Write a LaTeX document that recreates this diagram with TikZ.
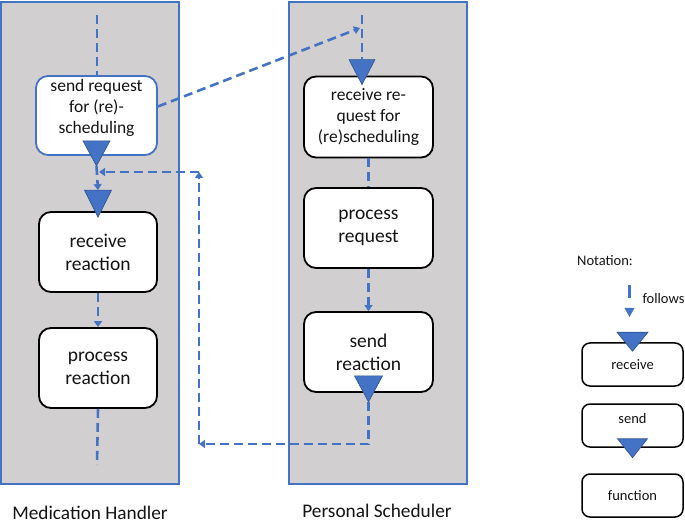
\documentclass[tikz,border=0pt]{standalone}
\usepackage{fontspec}
\setmainfont{Carlito}
\usetikzlibrary{arrows.meta,calc}
\definecolor{lanegray}{RGB}{210,207,208}
\definecolor{obl}{RGB}{68,114,196}
\definecolor{obldark}{RGB}{47,82,143}
\definecolor{txt}{RGB}{20,20,20}
\begin{document}
\begin{tikzpicture}[x=1pt,y=-1pt,
  lane/.style={draw=obl,line width=1.3pt,fill=lanegray,minimum width=178pt,minimum height=482pt,inner sep=0pt},
  act/.style={draw=black,line width=1.8pt,fill=white,rounded corners=12pt,minimum width=118pt,minimum height=80pt,inner sep=0pt,align=center,text=txt,font=\fontsize{19.5}{23}\selectfont},
  actsm/.style={act,font=\fontsize{17.5}{21}\selectfont},
  nact/.style={draw=black,line width=1.5pt,fill=white,rounded corners=8pt,minimum width=101pt,minimum height=43pt,inner sep=0pt,align=center,text=txt,font=\fontsize{14.5}{17}\selectfont},
  flow/.style={draw=obl,line width=2.6pt,dash pattern=on 9pt off 5pt},
  flowarr/.style={flow,-{Triangle[length=6pt,width=8pt]}},
  tri/.style={fill=obl,draw=obldark,line width=0.6pt,line join=miter},
  lanelabel/.style={text=txt,font=\fontsize{19.3}{22}\selectfont},
  note/.style={text=txt,font=\fontsize{14.5}{17}\selectfont}]
\useasboundingbox (0,0) rectangle (685,526);

% lanes
\node[lane] (laneL) at (90,243) {};
\node[lane] (laneR) at (378,243) {};
\node[lanelabel] (labL) at (90,513) {Medication Handler};
\node[lanelabel] (labR) at (377,511) {Personal Scheduler};

% left lane activities
\node[actsm,draw=obl,minimum width=121pt,minimum height=79pt,
  label={[actsm,draw=none,fill=none,minimum width=0pt,minimum height=0pt,yshift=8pt]center:send request\\for (re)-\\scheduling}]
  (sr) at (96.5,115.5) {};
\node[act] (rr) at (98,252) {receive\\reaction};
\node[act] (pr) at (98,368) {process\\reaction};

% right lane activities
\node[actsm,minimum width=129pt,minimum height=81pt] (rq) at (368.5,117) {receive re-\\quest for\\(re)scheduling};
\node[act,minimum width=129pt] (pq) at (368.5,228) {process\\request};
\node[act,minimum width=129pt] (sq) at (368.5,352) {send\\reaction};

% triangles (send / receive markers)
\filldraw[tri] ($(sr.south)+(-13.5,-15)$) -- ($(sr.south)+(13.5,-15)$) -- ($(sr.south)+(0,10)$) -- cycle;
\filldraw[tri] ($(rr.north)+(-13.5,-21)$) -- ($(rr.north)+(13.5,-21)$) -- ($(rr.north)+(0,6)$) -- cycle;
\filldraw[tri] ($(rq.north)+(-19.5,-16)$) -- ($(rq.north)+(6.5,-16)$) -- ($(rq.north)+(-6.5,9)$) -- cycle;
\filldraw[tri] ($(sq.south)+(-14,-17)$) -- ($(sq.south)+(14,-17)$) -- ($(sq.south)+(0,9)$) -- cycle;

% coordinates
\coordinate (lt) at (97,15);
\coordinate (lb) at (97,465);
\coordinate (sst) at ($(sr.south)+(0,10)$);
\coordinate (rrt) at ($(rr.north)+(0,-21)$);
\coordinate (rtop) at (362,15);
\coordinate (rqt) at ($(rq.north)+(-6.5,-16)$);
\coordinate (ra) at (360,28);
\coordinate (sqt) at ($(sq.south)+(0,9)$);
\coordinate (c2) at (199,444);
\coordinate (c3) at (199,172);
\coordinate (c4) at (99,172);

% connectors
\draw[flow] (lt) -- (lt |- sr.north);
\draw[flowarr] (sst) -- (rrt);
\draw[flowarr] (rr.south) -- (pr.north);
\draw[flow] (pr.south) -- (lb);
\draw[flowarr] ($(sr.east)+(0,-9)$) -- (ra);
\draw[flow] (rtop) -- (rqt);
\draw[flow] (rq.south) -- (pq.north);
\draw[flowarr] (pq.south) -- (sq.north);
\draw[flowarr] (sqt) |- (c2);
\draw[flowarr] (c2) -- (c3);
\draw[flowarr] (c3) -- (c4);

% notation
\node[note] (nt) at (605,261) {Notation:};
\coordinate (fa) at (629.5,285);
\coordinate (fb) at (629.5,298);
\draw[obl,line width=3pt] (fa) -- (fb);
\fill[obl] (624.5,308) -- (634.5,308) -- (629.5,317) -- cycle;
\node[note,anchor=west] (nf) at (639,299) {follows};
\node[nact] (nr) at (632.5,364.5) {receive};
\node[nact,label={[note,yshift=7pt]center:send}] (ns) at (632.5,425.5) {};
\node[nact] (nfn) at (632.5,495.5) {function};
\filldraw[tri] ($(nr.north)+(-15.5,-10)$) -- ($(nr.north)+(15.5,-10)$) -- ($(nr.north)+(0,9)$) -- cycle;
\filldraw[tri] ($(ns.south)+(-15,-9)$) -- ($(ns.south)+(15,-9)$) -- ($(ns.south)+(0,10)$) -- cycle;
\end{tikzpicture}
\end{document}
